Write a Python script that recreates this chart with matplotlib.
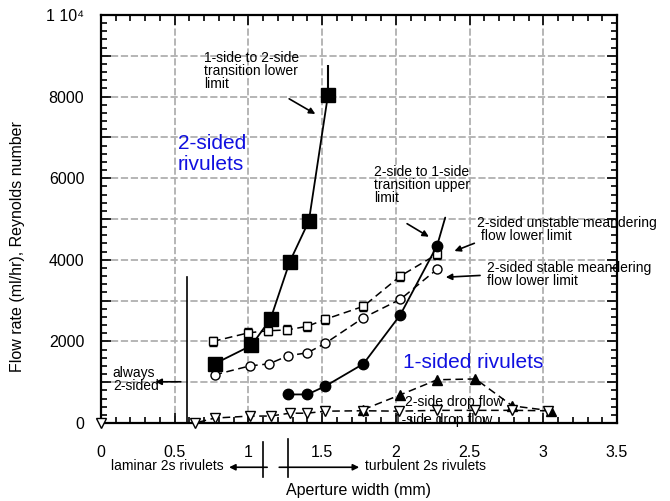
import matplotlib
matplotlib.use("Agg")
import matplotlib.pyplot as plt
from matplotlib.ticker import MultipleLocator

plt.rcParams['font.family'] = ['Liberation Sans', 'DejaVu Sans']

# ---------------- data ----------------
# 1-side to 2-side transition lower limit (filled squares, solid)
sq_x = [0.77, 1.02, 1.15, 1.28, 1.41, 1.54]
sq_y = [1450, 1900, 2550, 3950, 4950, 8050]
sq_err_up = [0, 0, 0, 80, 80, 720]

# 2-side to 1-side transition upper limit (filled circles, solid)
ci_x = [1.27, 1.40, 1.52, 1.78, 2.03, 2.28]
ci_y = [700, 700, 900, 1450, 2650, 4350]

# 2-sided unstable meandering flow lower limit (open squares w/ error bars, dashed)
osq_x = [0.76, 1.00, 1.13, 1.26, 1.40, 1.52, 1.78, 2.03, 2.28]
osq_y = [2000, 2210, 2260, 2280, 2370, 2540, 2860, 3600, 4140]

# 2-sided stable meandering flow lower limit (open circles, dashed)
oci_x = [0.77, 1.01, 1.14, 1.27, 1.40, 1.52, 1.78, 2.03, 2.28]
oci_y = [1180, 1400, 1450, 1650, 1720, 1950, 2580, 3030, 3770]

# 2-side drop flow (filled up triangles, dashed)
tu_x = [1.78, 2.03, 2.28, 2.54, 2.79, 3.05]
tu_y = [330, 690, 1060, 1080, 420, 300]

# 1-side drop flow (open down triangles, dashed)
td_x = [0.0, 0.64, 0.77, 1.01, 1.15, 1.28, 1.40, 1.52, 1.78, 2.02, 2.28, 2.54, 2.79, 3.03]
td_y = [0, 0, 120, 170, 170, 240, 240, 290, 300, 290, 310, 310, 310, 300]

xticks = [0, 0.5, 1, 1.5, 2, 2.5, 3, 3.5]
xtick_labels = ['0', '0.5', '1', '1.5', '2', '2.5', '3', '3.5']
yticks = [0, 2000, 4000, 6000, 8000, 10000]
ytick_labels = ['0', '2000', '4000', '6000', '8000', '1 10\u2074']

# ---------------- figure ----------------
fig = plt.figure(figsize=(6.70, 5.01), dpi=100)
ax = fig.add_axes([101/670, 1-423/501, (617-101)/670, (423-15)/501])
ax.set_xlim(0, 3.5)
ax.set_ylim(0, 10000)

ax.grid(True, which='major', color='#b0b0b0', linestyle=(0, (4, 1.5)), linewidth=1.3)
ax.set_axisbelow(True)
ax.yaxis.set_major_locator(MultipleLocator(1000))
ax.yaxis.set_minor_locator(MultipleLocator(200))
ax.xaxis.set_major_locator(MultipleLocator(0.5))
ax.xaxis.set_minor_locator(MultipleLocator(0.1))

def yfmt(v, pos):
    for t, l in zip(yticks, ytick_labels):
        if abs(v - t) < 1e-6:
            return l
    return ''
def xfmt(v, pos):
    for t, l in zip(xticks, xtick_labels):
        if abs(v - t) < 1e-6:
            return l
    return ''
ax.yaxis.set_major_formatter(plt.FuncFormatter(yfmt))
ax.xaxis.set_major_formatter(plt.FuncFormatter(xfmt))

ax.tick_params(which='both', direction='in', top=True, right=True, width=1.2,
               labelsize=11.5)
ax.tick_params(which='major', length=7)
ax.tick_params(which='minor', length=4)
ax.tick_params(axis='x', pad=16)
ax.tick_params(axis='y', pad=12)
for s in ax.spines.values():
    s.set_linewidth(1.6)

dash = (0, (5, 3))
ax.errorbar(sq_x, sq_y, yerr=[[0]*len(sq_x), sq_err_up], fmt='-', color='black',
            marker='s', markersize=10, linewidth=1.3, elinewidth=1.5, capsize=0, zorder=5)
ax.plot(ci_x, ci_y, '-', color='black', marker='o', markersize=7.5, linewidth=1.3, zorder=5)
ax.errorbar(osq_x, osq_y, yerr=110, fmt='s', linestyle=dash, color='black',
            markerfacecolor='white', markersize=6, linewidth=1.1, elinewidth=1.0,
            capsize=3, zorder=4)
ax.plot(oci_x, oci_y, linestyle=dash, color='black', marker='o', markerfacecolor='white',
        markersize=6.5, linewidth=1.1, zorder=4)
ax.plot(tu_x, tu_y, linestyle=dash, color='black', marker='^', markersize=7,
        linewidth=1.1, zorder=4)
ax.plot(td_x, td_y, linestyle=dash, color='black', marker='v', markerfacecolor='white',
        markersize=7, linewidth=1.1, zorder=4, clip_on=False)

# ---------------- annotations ----------------
fs = 10
arrow = dict(arrowstyle='-|>', color='black', lw=1.2, mutation_scale=9)
ax.text(0.70, 9120, '1-side to 2-side\ntransition lower\nlimit', fontsize=fs,
        va='top', ha='left', linespacing=0.92)
ax.annotate('', xy=(1.47, 7540), xytext=(1.26, 7980), arrowprops=arrow)

ax.text(0.52, 7080, '2-sided\nrivulets', fontsize=15, color='#1010e0',
        va='top', ha='left', linespacing=1.15)

ax.text(1.85, 6320, '2-side to 1-side\ntransition upper\nlimit', fontsize=fs,
        va='top', ha='left', linespacing=0.92)
ax.annotate('', xy=(2.24, 4530), xytext=(2.06, 4920), arrowprops=arrow)
ax.annotate('', xy=(2.28, 4350), xytext=(2.34, 5100),
            arrowprops=dict(arrowstyle='-', color='black', lw=1.3))

ax.text(2.55, 5080, '2-sided unstable meandering\n flow lower limit', fontsize=fs,
        va='top', ha='left', linespacing=0.92, clip_on=False)
ax.annotate('', xy=(2.38, 4190), xytext=(2.55, 4430), arrowprops=arrow)

ax.text(2.62, 3980, '2-sided stable meandering\nflow lower limit', fontsize=fs,
        va='top', ha='left', linespacing=0.92)
ax.annotate('', xy=(2.32, 3570), xytext=(2.59, 3620), arrowprops=arrow)

ax.text(2.05, 1480, '1-sided rivulets', fontsize=15, color='#1010e0',
        va='center', ha='left')
ax.text(2.06, 520, '2-side drop flow', fontsize=fs, va='center', ha='left')
ax.text(1.99, 70, '1-side drop flow', fontsize=fs, va='center', ha='left')

ax.text(0.08, 1390, 'always\n2-sided', fontsize=fs, va='top', ha='left', linespacing=0.92)
ax.annotate('', xy=(0.35, 1010), xytext=(0.56, 1010), arrowprops=arrow)
ax.plot([0.58, 0.58], [0, 3570], color='black', lw=1.2)

# below-axis regime markers
ax.plot([1.098, 1.098], [-470, -1330], color='black', lw=1.2, clip_on=False)
ax.plot([1.268, 1.268], [-400, -1330], color='black', lw=1.2, clip_on=False)
ax.annotate('', xy=(0.85, -1085), xytext=(1.146, -1085), annotation_clip=False,
            arrowprops=arrow)
ax.annotate('', xy=(1.77, -1085), xytext=(1.19, -1085), annotation_clip=False,
            arrowprops=arrow)
ax.text(0.83, -1060, 'laminar 2s rivulets', fontsize=fs, ha='right', va='center',
        clip_on=False)
ax.text(1.79, -1060, 'turbulent 2s rivulets', fontsize=fs, ha='left', va='center',
        clip_on=False)

fig.text(359/670, 1-491/501, 'Aperture width (mm)', fontsize=11.5, ha='center', va='center')
fig.text(18/670, 1-247/501, 'Flow rate (ml/hr), Reynolds number', fontsize=11.5,
         rotation=90, ha='center', va='center')

fig.savefig('out.png', dpi=100)
